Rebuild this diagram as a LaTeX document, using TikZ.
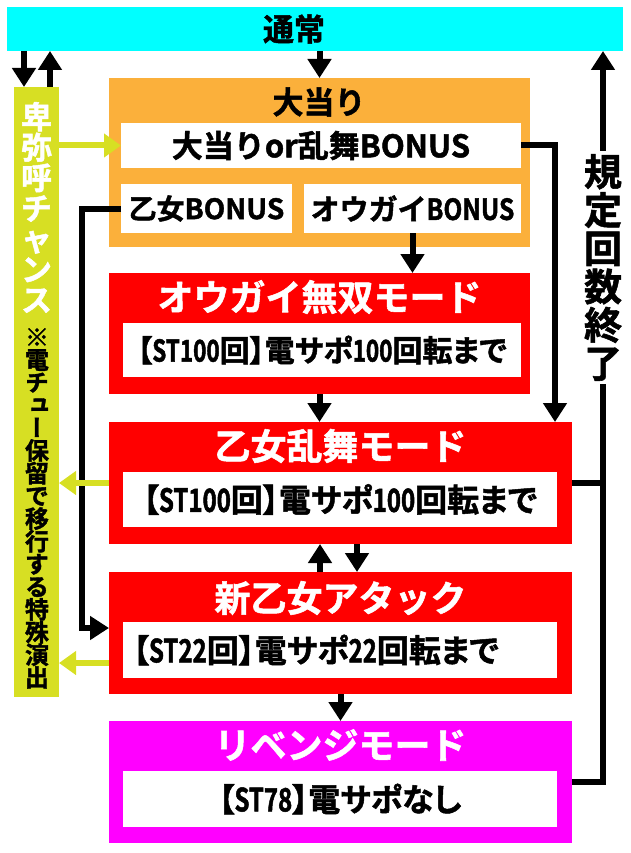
\documentclass[tikz,border=0pt]{standalone}
\usepackage{fontspec}
\setmainfont{Noto Sans CJK JP Bold}[FakeBold=1.5]
\newfontfamily\jpp{Noto Sans CJK JP Bold}[FakeBold=1.5, RawFeature=+palt]
\newfontfamily\latc{Noto Sans CJK JP Bold}[FakeBold=1.5, FakeStretch=0.75]
\newfontfamily\latb{Noto Sans CJK JP Bold}[FakeBold=1.5, FakeStretch=0.85]
\newfontfamily\jpv{Noto Sans CJK JP Bold}[FakeBold=1.5, RawFeature=+vert]
\usetikzlibrary{arrows.meta}
\definecolor{cyanc}{HTML}{00FFFF}
\definecolor{orangec}{HTML}{FBB03B}
\definecolor{redc}{HTML}{FF0000}
\definecolor{magc}{HTML}{FF00FF}
\definecolor{ygc}{HTML}{D7DF23}
\newcommand{\lc}[1]{{\latc #1}}
\tikzset{
  blkarrow/.style={draw=black, line width=6pt, -{Triangle[width=23pt,length=19pt]}},
  blkline/.style={draw=black, line width=6pt},
  ygarrow/.style={draw=ygc, line width=6pt, -{Triangle[width=23pt,length=17pt]}},
  wbox/.style={fill=white, text=black},
  titletext/.style={text=white, font=\fontsize{36}{36}\selectfont},
  sttext/.style={font=\jpp\fontsize{#1}{#1}\selectfont},
}
\begin{document}
\lineskiplimit=-100pt
\begin{tikzpicture}[x=1pt,y=-1pt, every node/.style={inner sep=0pt, outer sep=0pt}]
\useasboundingbox (0,0) rectangle (630,853);

% top bar
\node[fill=cyanc, minimum width=616pt, minimum height=44pt] (tsujo) at (315,29) {};
\node[font=\fontsize{31}{31}\selectfont] (tsujotext) at (294,29) {通常};

% left special bar
\node[fill=ygc, minimum width=45pt, minimum height=610pt] (himiko) at (36.5,392) {};
\node[text=white, align=center, font=\fontsize{31}{30.5}\selectfont] (himikotext) at (36.5,207.5)
  {卑\\弥\\呼\\チ\\ャ\\ン\\ス};
\node[text=black, align=center, font=\jpv\fontsize{24}{22.7}\selectfont] (himikonote) at (37,508.5)
  {※\\電\\チ\\ュ\\ー\\保\\留\\で\\移\\行\\す\\る\\特\\殊\\演\\出};

% big hit box
\node[fill=orangec, minimum width=421pt, minimum height=169pt] (oatari) at (319.5,162.5) {};
\node[font=\fontsize{31}{31}\selectfont] (oataritext) at (319,102) {大当り};
\node[wbox, minimum width=400pt, minimum height=45pt, font=\fontsize{31}{31}\selectfont] (boxA) at (321,145.5) {大当りor乱舞BONUS};
\node[wbox, minimum width=171pt, minimum height=49pt, font=\fontsize{28}{28}\selectfont] (boxB) at (206.5,208.5) {乙女BONUS};
\node[wbox, minimum width=217pt, minimum height=49pt, font=\fontsize{29}{29}\selectfont] (boxC) at (412.5,208.5) {オウガイ{\latb BONUS}};

% red 1
\node[fill=redc, minimum width=421pt, minimum height=121pt] (red1) at (319.5,333.5) {};
\node[titletext] (red1t) at (319.5,297) {オウガイ無双モード};
\node[wbox, minimum width=398pt, minimum height=54pt, sttext=30] (w1) at (322,350) {【\lc{ST100}回】電サポ\lc{100}回転まで};

% red 2
\node[fill=redc, minimum width=463pt, minimum height=122pt] (red2) at (340.5,483) {};
\node[titletext] (red2t) at (340.5,446) {乙女乱舞モード};
\node[wbox, minimum width=434pt, minimum height=55pt, sttext=32] (w2) at (340,499.5) {【\lc{ST100}回】電サポ\lc{100}回転まで};

% red 3
\node[fill=redc, minimum width=463pt, minimum height=122pt] (red3) at (340.5,633) {};
\node[titletext] (red3t) at (340.5,598) {新乙女アタック};
\node[wbox, minimum width=434pt, minimum height=56pt, text width=414pt, inner xsep=10pt, align=flush left, sttext=32] (w3) at (340,650) {【\lc{ST22}回】電サポ\lc{22}回転まで};

% magenta
\node[fill=magc, minimum width=463pt, minimum height=122pt] (mag) at (340.5,782) {};
\node[titletext] (magt) at (340.5,745) {リベンジモード};
\node[wbox, minimum width=434pt, minimum height=56pt, sttext=32] (w4) at (340,799) {【\lc{ST78}】電サポなし};

% connectors
\coordinate (ret) at (603,0);
\draw[blkarrow] (oatari.north |- tsujo.south) -- (oatari.north);
\draw[blkarrow] ([xshift=10pt]himiko.north west |- tsujo.south) -- ([xshift=10pt]himiko.north west);
\draw[blkarrow] ([xshift=-9pt]himiko.north east) -- ([xshift=-9pt]himiko.north east |- tsujo.south);
\draw[ygarrow] (himiko.east |- boxA.west) -- (boxA.west);
\draw[blkarrow] (boxA.east) -| ([xshift=-17pt]red2.north east);
\draw[blkarrow] (boxC.south) -- (boxC.south |- red1.north);
\draw[blkarrow] (boxB.west) -- ++(-39,0) |- ([yshift=5pt]red3.west);
\draw[blkarrow] (red1.south) -- (red1.south |- red2.north);
\draw[ygarrow] (red2.west) -- (red2.west -| himiko.east);
\draw[ygarrow] ([yshift=-30pt]red3.west) -- ([yshift=-30pt]red3.west -| himiko.east);
\draw[blkarrow] ([xshift=-20.5pt]red3.north) -- ([xshift=-20.5pt]red3.north |- red2.south);
\draw[blkarrow] ([xshift=16.5pt]red2.south) -- ([xshift=16.5pt]red2.south |- red3.north);
\draw[blkarrow] (red3.south) -- (red3.south |- mag.north);
\draw[blkline] (red2.east) -- (red2.east -| ret);
\draw[blkarrow] (mag.east) -| (tsujo.south -| ret);

\node[fill=white, inner ysep=3pt, align=center, font=\fontsize{38}{38.3}\selectfont] (kitei) at (603,267.5)
  {規\\定\\回\\数\\終\\了};
\end{tikzpicture}
\end{document}
